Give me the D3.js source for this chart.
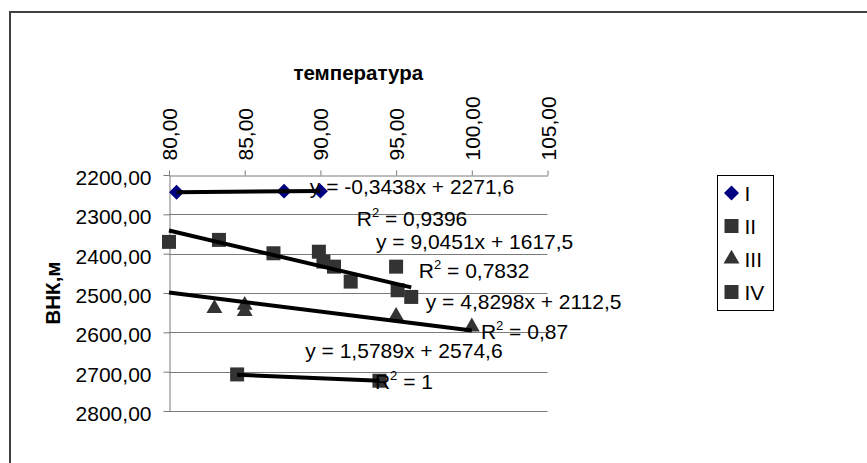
<!DOCTYPE html>
<html>
<head>
<meta charset="utf-8">
<script src="https://cdn.jsdelivr.net/npm/d3@7"></script>
<style>
  body { margin: 0; background: #fff; }
  svg text { font-family: Arial, "Liberation Sans", sans-serif; }
</style>
</head>
<body>
<script>
var w = 867;
var h = 463;

// data
var seriesNames = ["I", "II", "III", "IV"];
var xI = [80.5, 87.6, 90.0];
var yI = [2244, 2241, 2241];
var xII = [80.0, 83.3, 86.9, 89.9, 90.2, 90.9, 92.0, 95.0, 95.1, 96.0];
var yII = [2370, 2365, 2399, 2395, 2420, 2433, 2471, 2433, 2493, 2510];
var xIII = [83.0, 85.0, 85.0, 95.0, 100.0];
var yIII = [2539, 2531, 2547, 2559, 2586];
var xIV = [84.5, 93.9];
var yIV = [2707, 2723];

// trend lines: slope, intercept, x range
var trendSlope = [-0.3438, 9.0451, 4.8298, 1.5789];
var trendIntercept = [2271.6, 1617.5, 2112.5, 2574.6];
var trendFrom = [80.5, 80, 80, 84.5];
var trendTo = [90, 96, 100, 93.9];

var eqLabels = ["y = -0,3438x + 2271,6", "y = 9,0451x + 1617,5", "y = 4,8298x + 2112,5", "y = 1,5789x + 2574,6"];
var r2Labels = ["0,9396", "0,7832", "0,87", "1"];
// label anchors (left edge, middle) in data units
var eqX = [89.3, 93.67, 96.96, 89.0];
var eqY = [2230, 2370, 2521, 2647];
var r2X = [92.4, 96.5, 100.6, 93.6];
var r2Y = [2310, 2443, 2599, 2724];

var xTicks = [80, 85, 90, 95, 100, 105];
var yTicks = [2200, 2300, 2400, 2500, 2600, 2700, 2800];

var svg = d3.select("body").append("svg")
    .attr("width", w)
    .attr("height", h);

// outer chart border (goes off the right and bottom)
svg.append("path")
    .attr("d", "M10," + (h + 5) + "V12H" + (w + 5))
    .attr("fill", "none")
    .attr("stroke", "#404040")
    .attr("stroke-width", 2);

var x = d3.scaleLinear().domain([80, 105]).range([169, 547.5]);
var y = d3.scaleLinear().domain([2200, 2800]).range([175, 411]);
var fmt = function (d) { return d3.format(".2f")(d).replace(".", ","); };

// grid lines
svg.append("g").selectAll("line")
    .data(yTicks.slice(1))
    .join("line")
    .attr("x1", x(80))
    .attr("x2", x(105))
    .attr("y1", function (d) { return Math.round(y(d)) + 0.5; })
    .attr("y2", function (d) { return Math.round(y(d)) + 0.5; })
    .attr("stroke", "#7a7a7a");

// top axis (temperature)
var gx = svg.append("g")
    .attr("transform", "translate(0," + (Math.round(y(2200)) + 0.5) + ")")
    .call(d3.axisTop(x).tickValues(xTicks).tickSize(5).tickSizeOuter(0).tickFormat(fmt));
gx.select(".domain").attr("stroke", "#7a7a7a");
gx.selectAll(".tick line").attr("stroke", "#7a7a7a");
gx.selectAll(".tick text")
    .attr("transform", "rotate(-90)")
    .attr("text-anchor", "start")
    .attr("x", 15)
    .attr("y", 0)
    .attr("dy", "0.36em")
    .attr("font-size", 21)
    .attr("font-family", "Arial, 'Liberation Sans', sans-serif")
    .attr("fill", "#000");

// left axis
var gy = svg.append("g")
    .attr("transform", "translate(" + (Math.round(x(80)) + 0.5) + ",0)")
    .call(d3.axisLeft(y).tickValues(yTicks).tickSize(6).tickSizeOuter(0).tickFormat(fmt));
gy.select(".domain").attr("stroke", "#7a7a7a");
gy.selectAll(".tick line").attr("stroke", "#7a7a7a");
gy.selectAll(".tick text")
    .attr("x", -18)
    .attr("dy", "0.45em")
    .attr("font-size", 21)
    .attr("font-family", "Arial, 'Liberation Sans', sans-serif")
    .attr("fill", "#000");

// axis titles
svg.append("text")
    .attr("x", (x(80) + x(105)) / 2)
    .attr("y", 80)
    .attr("text-anchor", "middle")
    .attr("font-size", 20.5)
    .attr("font-weight", "bold")
    .text("температура");

svg.append("text")
    .attr("transform", "translate(60," + ((y(2200) + y(2800)) / 2) + ") rotate(-90)")
    .attr("text-anchor", "middle")
    .attr("font-size", 20.5)
    .attr("font-weight", "bold")
    .text("ВНК,м");

// markers (diamond = square turned 45deg)
var diamond = d3.symbol().type(d3.symbolSquare).size(112);
var square = d3.symbol().type(d3.symbolSquare).size(196);
var triangle = d3.symbol().type(d3.symbolTriangle).size(110);

var series = [
    { xs: xI, ys: yI, sym: diamond, rot: 45, color: "#000080" },
    { xs: xII, ys: yII, sym: square, rot: 0, color: "#333333" },
    { xs: xIII, ys: yIII, sym: triangle, rot: 0, color: "#333333" },
    { xs: xIV, ys: yIV, sym: square, rot: 0, color: "#333333" }
];

series.forEach(function (s) {
    svg.append("g").selectAll("path")
        .data(d3.range(s.xs.length))
        .join("path")
        .attr("d", s.sym)
        .attr("transform", function (i) {
            return "translate(" + x(s.xs[i]) + "," + y(s.ys[i]) + ") rotate(" + s.rot + ")";
        })
        .attr("fill", s.color);
});

// trend lines
svg.append("g").selectAll("line")
    .data(d3.range(4))
    .join("line")
    .attr("x1", function (i) { return x(trendFrom[i]); })
    .attr("x2", function (i) { return x(trendTo[i]); })
    .attr("y1", function (i) { return y(trendSlope[i] * trendFrom[i] + trendIntercept[i]); })
    .attr("y2", function (i) { return y(trendSlope[i] * trendTo[i] + trendIntercept[i]); })
    .attr("stroke", "#000")
    .attr("stroke-width", 4);

// equation labels
svg.append("g").selectAll("text")
    .data(d3.range(4))
    .join("text")
    .attr("x", function (i) { return x(eqX[i]); })
    .attr("y", function (i) { return y(eqY[i]) + 7.5; })
    .attr("font-size", 21)
    .text(function (i) { return eqLabels[i]; });

var r2 = svg.append("g").selectAll("text")
    .data(d3.range(4))
    .join("text")
    .attr("x", function (i) { return x(r2X[i]); })
    .attr("y", function (i) { return y(r2Y[i]) + 7.5; })
    .attr("font-size", 21);
r2.append("tspan").text("R");
r2.append("tspan").attr("font-size", 13).attr("dy", -9).text("2");
r2.append("tspan").attr("dy", 9).text(function (i) { return " = " + r2Labels[i]; });

// legend
svg.append("rect")
    .attr("x", 717.5)
    .attr("y", 175.5)
    .attr("width", 56)
    .attr("height", 135)
    .attr("fill", "#fff")
    .attr("stroke", "#000");

var legY = d3.scalePoint().domain(seriesNames).range([193, 292]);
var leg = svg.append("g").selectAll("g")
    .data(d3.range(4))
    .join("g")
    .attr("transform", function (i) { return "translate(731.5," + legY(seriesNames[i]) + ")"; });
leg.append("path")
    .attr("d", function (i) { return series[i].sym(); })
    .attr("transform", function (i) { return "rotate(" + series[i].rot + ")"; })
    .attr("fill", function (i) { return series[i].color; });
leg.append("text")
    .attr("x", 13)
    .attr("dy", "0.36em")
    .attr("font-size", 21)
    .text(function (i) { return seriesNames[i]; });
</script>
</body>
</html>
